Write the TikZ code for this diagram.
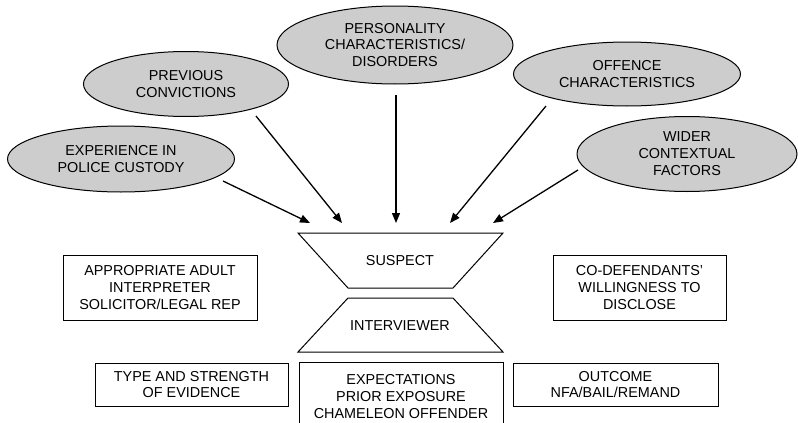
\documentclass[tikz,border=0pt]{standalone}
\usepackage{fontspec}
\setmainfont{Liberation Sans}
\usetikzlibrary{shapes.geometric,arrows.meta}
\definecolor{ovalfill}{RGB}{205,205,205}
\tikzset{
  factor/.style={ellipse, draw=black, line width=1pt, fill=ovalfill, inner sep=0pt, align=center,
    font=\fontsize{14.4}{16.9}\selectfont},
  infobox/.style={rectangle, draw=black, line width=1pt, inner sep=0pt, align=center,
    font=\fontsize{14.4}{16.9}\selectfont},
  label/.style={inner sep=0pt, align=center, font=\fontsize{14.4}{16.9}\selectfont},
  shape line/.style={draw=black, line width=1pt},
  influence/.style={line width=1.3pt, -{Triangle[length=10pt,width=8pt]}}
}
\begin{document}
\begin{tikzpicture}[x=1pt,y=-1pt]
\useasboundingbox (0,0) rectangle (798,423);
\clip (0,0) rectangle (798,423);

% influencing factors
\node[factor, minimum width=227pt, minimum height=66pt] (exp) at (121,159) {EXPERIENCE IN\\POLICE CUSTODY};
\node[factor, minimum width=205pt, minimum height=65pt] (prev) at (186,84) {PREVIOUS\\CONVICTIONS};
\node[factor, minimum width=236pt, minimum height=78pt] (pers) at (395,45) {PERSONALITY\\CHARACTERISTICS/\\DISORDERS};
\node[factor, minimum width=227pt, minimum height=64pt] (off) at (627,74) {OFFENCE\\CHARACTERISTICS};
\node[factor, minimum width=220pt, minimum height=75pt] (wider) at (687,154) {WIDER\\CONTEXTUAL\\FACTORS};

% suspect and interviewer trapezia
\draw[shape line] (298,233) -- (503,233) -- (453,288) -- (348,288) -- cycle;
\node[label] (suspect) at (400,261) {SUSPECT};
\draw[shape line] (348,298) -- (453,298) -- (503,352) -- (298,352) -- cycle;
\node[label] (interviewer) at (400,326) {INTERVIEWER};

% arrow start and end points
\coordinate (s1) at (223,181);
\coordinate (s2) at (256,116);
\coordinate (s3) at (396,95);
\coordinate (s4) at (546,106);
\coordinate (s5) at (578,170);
\coordinate (t1) at (310,223);
\coordinate (t2) at (342,223);
\coordinate (t3) at (396,223);
\coordinate (t4) at (450,223);
\coordinate (t5) at (493,223);

\draw[influence] (s1) -- (t1);
\draw[influence] (s2) -- (t2);
\draw[influence] (s3) -- (t3);
\draw[influence] (s4) -- (t4);
\draw[influence] (s5) -- (t5);

% context boxes
\node[infobox, minimum width=194pt, minimum height=65pt] (adult) at (160,287.5) {APPROPRIATE ADULT\\INTERPRETER\\SOLICITOR/LEGAL REP};
\node[infobox, minimum width=173pt, minimum height=65pt] (codef) at (639.5,287.5) {CO-DEFENDANTS’\\WILLINGNESS TO\\DISCLOSE};
\node[infobox, minimum width=193pt, minimum height=43pt] (evid) at (191.5,384.5) {TYPE AND STRENGTH\\OF EVIDENCE};
\node[infobox, minimum width=205pt, minimum height=43pt] (outc) at (615.5,384.5) {OUTCOME\\NFA/BAIL/REMAND};
\node[infobox, minimum width=204pt, minimum height=68pt, anchor=north] (expect) at (401,362) {EXPECTATIONS\\PRIOR EXPOSURE\\CHAMELEON OFFENDER};
\end{tikzpicture}
\end{document}
